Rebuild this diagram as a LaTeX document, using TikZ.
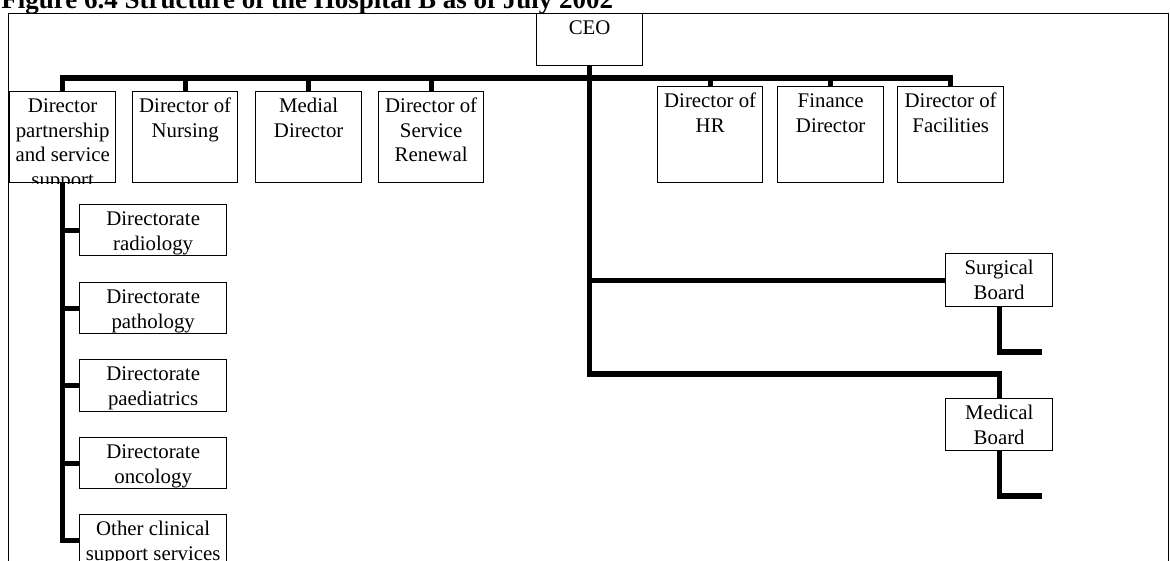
\documentclass[tikz,border=0pt]{standalone}
\usepackage{fontspec}
\setmainfont{Liberation Serif}
\newcommand\pxl[1]{\dimexpr0.6pt*#1\relax}
\tikzset{
  obox/.style={draw, line width=0.8pt, inner sep=0pt, anchor=north west, fill=white,
    font=\fontsize{12.5}{14.7}\selectfont},
  conn/.style={line width=3.2pt, line join=miter},
  framebox/.style={line width=0.6pt},
  titletext/.style={anchor=base west, inner sep=0pt, font=\fontsize{16.2}{19}\selectfont\bfseries}
}
\newcommand\orgbox[6]{\node[obox] (#1) at (#2,#3) {\parbox[c][\pxl{#5}][t]{\pxl{#4}}{\centering\rule{0pt}{12.6pt}#6}};}
\begin{document}
\begin{tikzpicture}[x=0.6pt,y=-0.6pt]
\useasboundingbox (0,0) rectangle (1170,560);
\clip (0,0) rectangle (1170,560);
\draw[framebox] (8,13) rectangle (1168,620);
\node[titletext] (title) at (1,8) {Figure 6.4 Structure of the Hospital B as of July 2002};

\orgbox{ceo}{536}{13}{106}{52}{CEO}
\orgbox{dps}{9}{91}{106}{91}{Director\\partnership\\and service\\support}
\orgbox{dn}{132}{91}{105}{91}{Director of\\Nursing}
\orgbox{md}{255}{91}{106}{91}{Medial\\Director}
\orgbox{dsr}{378}{91}{105}{91}{Director of\\Service\\Renewal}
\orgbox{hr}{657}{86}{105}{96}{Director of\\HR}
\orgbox{fin}{777}{86}{106}{96}{Finance\\Director}
\orgbox{fac}{897}{86}{106}{96}{Director of\\Facilities}
\orgbox{surg}{945}{253}{107}{53}{Surgical\\Board}
\orgbox{med}{945}{398}{107}{52}{Medical\\Board}
\orgbox{rad}{79}{204}{147}{51}{Directorate\\radiology}
\orgbox{path}{79}{282}{147}{51}{Directorate\\pathology}
\orgbox{paed}{79}{359}{147}{52}{Directorate\\paediatrics}
\orgbox{onc}{79}{437}{147}{51}{Directorate\\oncology}
\orgbox{oth}{79}{514}{147}{51}{Other clinical\\support services}

% hide the overflowing part of the first box's text
\fill[white] (10,183.5) rectangle (114,200);

\coordinate (bus) at (0,78);
\coordinate (st) at (1042,352);
\coordinate (mt) at (1042,496);

\draw[conn] (dps.north) -- (dps.north |- bus) -- (fac.north |- bus) -- (fac.north);
\foreach \n in {dn,md,dsr,hr,fin} \draw[conn] (\n.north |- bus) -- (\n.north);
\draw[conn] (ceo.south) |- (med.north |- 0,374) -- (med.north);
\draw[conn] (ceo.south |- surg.west) -- (surg.west);
\draw[conn] (surg.south) |- (st);
\draw[conn] (med.south) |- (mt);
\draw[conn] (dps.south) |- (oth.west);
\foreach \n in {rad,path,paed,onc} \draw[conn] (dps.south |- \n.west) -- (\n.west);
\end{tikzpicture}
\end{document}
